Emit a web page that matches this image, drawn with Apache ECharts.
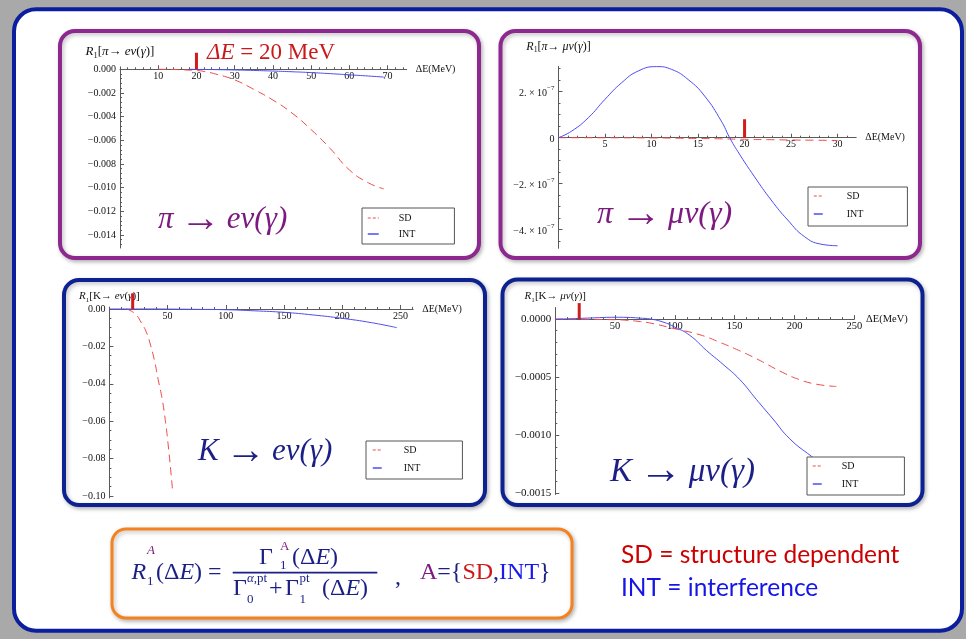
<!DOCTYPE html>
<html>
<head>
<meta charset="utf-8">
<script src="https://cdn.jsdelivr.net/npm/echarts@6/dist/echarts.min.js"></script>
<style>
  html, body { margin: 0; padding: 0; background: #a9a9a9; }
  #chart { width: 966px; height: 639px; }
</style>
</head>
<body>
<div id="chart"></div>
<script>
// ---- R1 ratios versus the photon energy cut ΔE (MeV) ----

// π → eν(γ)
const piE_dE_SD  = [10, 14, 18, 20, 22, 25, 30, 35, 40, 45, 50, 55, 60, 65, 69];
const piE_SD     = [0, -0.00002, -0.00007, -0.0001, -0.00018, -0.0004, -0.0009, -0.0017, -0.0026, -0.0037, -0.0051, -0.0067, -0.0085, -0.0096, -0.0101];
const piE_dE_INT = [18, 20, 25, 30, 35, 40, 45, 50, 55, 60, 65, 69];
const piE_INT    = [0, -0.00001, -0.00003, -0.00006, -0.0001, -0.00015, -0.00021, -0.00028, -0.00037, -0.00047, -0.00057, -0.00066];

// π → μν(γ)
const piMu_dE_INT = [0, 1.43, 3.21, 5, 6.79, 8.57, 10.54, 12.15, 13.93, 15.71, 17.5, 18.4, 19.29, 21.07, 22.86, 24.64, 26.43, 28.21, 30];
const piMu_INT    = [0, 0.29e-7, 0.87e-7, 1.67e-7, 2.39e-7, 2.9e-7, 3.09e-7, 2.97e-7, 2.53e-7, 1.81e-7, 0.72e-7, 0, -0.61e-7, -1.7e-7, -2.71e-7, -3.58e-7, -4.3e-7, -4.63e-7, -4.7e-7];
const piMu_dE_SD  = [0, 5, 10, 12.5, 15, 17.5, 20, 22.5, 25, 27.5, 30];
const piMu_SD     = [0, -0.003e-7, -0.01e-7, -0.02e-7, -0.035e-7, -0.05e-7, -0.07e-7, -0.085e-7, -0.1e-7, -0.11e-7, -0.12e-7];

// K → eν(γ)
const kE_dE_SD  = [14.8, 21.9, 27.6, 32, 34.8, 38.5, 41.9, 45.4, 48.3, 50.6, 52.6, 54.3];
const kE_SD     = [0, -0.0025, -0.0075, -0.0128, -0.0181, -0.027, -0.0377, -0.0484, -0.0608, -0.0733, -0.0857, -0.0973];
const kE_dE_INT = [0, 25, 50, 75, 100, 125, 150, 175, 200, 225, 247];
const kE_INT    = [0, 0, -0.00005, -0.0002, -0.0004, -0.001, -0.0018, -0.0032, -0.005, -0.0073, -0.0100];

// K → μν(γ)
const kMu_dE_INT = [0, 10, 20, 30, 40, 50, 60, 70, 80, 90, 100, 112.5, 126.4, 140.3, 154.2, 168, 182, 196, 214, 225, 236];
const kMu_INT    = [0, 0.000002, 0.000006, 0.00001, 0.000014, 0.000016, 0.000015, 0.000009, 0, -0.000025, -0.000069, -0.00014, -0.00027, -0.00039, -0.00052, -0.00069, -0.00086, -0.00103, -0.00118, -0.00126, -0.00132];
const kMu_dE_SD  = [0, 50, 60, 70, 80, 100, 121, 137.6, 151.4, 168, 190.3, 204, 218, 235];
const kMu_SD     = [0, -0.000005, -0.00001, -0.00002, -0.000035, -0.000083, -0.000135, -0.0002, -0.00026, -0.00034, -0.00046, -0.00052, -0.00056, -0.00058];

// ΔE = 20 MeV cut, drawn as a short bar rising from the axis
const cutDE = 20;
const cutBarTop = [0.0014, 0.8e-7, 0.0084, 0.000138];

// tick labels
const piE_xTicks  = [10, 20, 30, 40, 50, 60, 70];
const piE_yTicks  = [0, -0.002, -0.004, -0.006, -0.008, -0.010, -0.012, -0.014];
const piMu_xTicks = [5, 10, 15, 20, 25, 30];
const piMu_yTicks = [2e-7, 0, -2e-7, -4e-7];
const kE_xTicks   = [50, 100, 150, 200, 250];
const kE_yTicks   = [0, -0.02, -0.04, -0.06, -0.08, -0.10];
const kMu_xTicks  = [50, 100, 150, 200, 250];
const kMu_yTicks  = [0, -0.0005, -0.0010, -0.0015];

const SERIF = '"Liberation Serif","DejaVu Serif","Times New Roman",serif';
const SANS = 'Lato,"Open Sans","Liberation Sans",sans-serif';
const SD_COLOR = '#f04848';
const INT_COLOR = '#4d4df2';
const CUT_COLOR = '#d01c1c';
const AXIS_COLOR = '#5a5a5a';
const NAVY = '#1b1f86';
const PURPLE = '#7d1a80';

const pairs = (xs, ys) => xs.map((x, i) => [x, ys[i]]);
const minus = s => s.replace('-', '\u2212');

// plot frames (pixel layout of the four panels) and their value ranges
const grids = [
  { left: 120,   top: 66.9,  width: 286.7, height: 181.1 },
  { left: 558.5, top: 66.4,  width: 297.7, height: 181.9 },
  { left: 109.4, top: 307.1, width: 303.8, height: 190.8 },
  { left: 555.3, top: 307.5, width: 299,   height: 187   }
].map(g => Object.assign({ containLabel: false, outerBoundsMode: 'none' }, g));
const yRanges = [[-0.0151, 0.0002], [-4.81e-7, 3.1e-7], [-0.101, 0.001], [-0.00151, 0.0001]];

// the ΔE axis crosses the vertical axis at R1 = 0
function zeroOffset(gi) {
  const [lo, hi] = yRanges[gi];
  return -(0 - lo) / (hi - lo) * grids[gi].height;
}

function xAxis(gi, max, split, ticks, fs) {
  return {
    type: 'value', gridIndex: gi, min: 0, max: max, splitNumber: split,
    position: 'bottom', offset: zeroOffset(gi),
    name: 'ΔE(MeV)', nameLocation: 'end', nameGap: 9,
    nameTextStyle: { fontFamily: SERIF, fontSize: fs, color: '#111', verticalAlign: 'middle', align: 'left' },
    axisLine: { onZero: false, lineStyle: { color: AXIS_COLOR, width: 1 } },
    axisTick: { inside: true, length: 4, customValues: ticks, lineStyle: { color: AXIS_COLOR } },
    minorTick: { show: true, splitNumber: 5, length: 2, lineStyle: { color: AXIS_COLOR } },
    axisLabel: { customValues: ticks, margin: 2, fontFamily: SERIF, fontSize: fs, color: '#111',
                 formatter: v => String(Math.round(v)) },
    splitLine: { show: false }
  };
}

function yAxis(gi, split, minorSplit, ticks, fmt, name, nameGap, nameSize, fs, rich) {
  return {
    type: 'value', gridIndex: gi, min: yRanges[gi][0], max: yRanges[gi][1], splitNumber: split,
    name: name, nameLocation: 'end', nameGap: nameGap,
    nameTextStyle: {
      fontFamily: SERIF, fontSize: nameSize, color: '#111',
      rich: {
        r: { fontFamily: SERIF, fontSize: nameSize, fontStyle: 'italic', color: '#111', lineHeight: nameSize + 4 },
        s: { fontFamily: SERIF, fontSize: nameSize * 0.65, color: '#111', verticalAlign: 'bottom', lineHeight: nameSize * 0.65 },
        t: { fontFamily: SERIF, fontSize: nameSize, color: '#111', lineHeight: nameSize + 4 },
        i: { fontFamily: SERIF, fontSize: nameSize, fontStyle: 'italic', color: '#111', lineHeight: nameSize + 4 }
      }
    },
    axisLine: { onZero: true, lineStyle: { color: AXIS_COLOR, width: 1 } },
    axisTick: { inside: true, length: 4, customValues: ticks, lineStyle: { color: AXIS_COLOR } },
    minorTick: { show: true, splitNumber: minorSplit, length: 2, lineStyle: { color: AXIS_COLOR } },
    axisLabel: { customValues: ticks, margin: 4, fontFamily: SERIF, fontSize: fs, color: '#111',
                 formatter: fmt, rich: rich || {} },
    splitLine: { show: false }
  };
}

function curve(name, gi, xs, ys, color, dashed) {
  return {
    type: 'line', name: name, xAxisIndex: gi, yAxisIndex: gi,
    data: pairs(xs, ys), smooth: 0.5, symbol: 'none',
    lineStyle: { color: color, width: 1, type: dashed ? [8, 5] : 'solid' },
    itemStyle: { color: color }, emphasis: { disabled: true }, silent: true, z: 3
  };
}

function cutBar(gi) {
  return {
    type: 'line', name: 'cut', xAxisIndex: gi, yAxisIndex: gi,
    data: [[cutDE, 0], [cutDE, cutBarTop[gi]]], symbol: 'none', clip: false,
    lineStyle: { color: CUT_COLOR, width: 3, cap: 'butt' }, silent: true, z: 6
  };
}

function legendBox(left, top, pad, gap, iw, textPad) {
  return {
    left: left, top: top, orient: 'vertical', padding: pad, itemGap: gap,
    itemWidth: iw, itemHeight: 10, selectedMode: false,
    backgroundColor: '#ffffff', borderColor: '#555', borderWidth: 1, borderRadius: 0,
    itemStyle: { opacity: 0 },
    data: [
      { name: 'SD', lineStyle: { type: [3, 2], width: 1 }, itemStyle: { opacity: 0 } },
      { name: 'INT', lineStyle: { width: 1.5 }, itemStyle: { opacity: 0 } }
    ],
    formatter: n => '{t|' + n + '}',
    textStyle: {
      fontFamily: SERIF, fontSize: 10, color: '#111',
      rich: { t: { fontFamily: SERIF, fontSize: 10, color: '#111', padding: [0, 0, 0, textPad], lineHeight: 10 } }
    }
  };
}

const expRich = {
  m: { fontFamily: SERIF, fontSize: 10, color: '#111', lineHeight: 14, verticalAlign: 'bottom' },
  e: { fontFamily: SERIF, fontSize: 7, color: '#111', lineHeight: 7, verticalAlign: 'top' }
};
const sciFmt = v => {
  if (Math.abs(v) < 1e-12) return '{m|0}';
  const k = Math.round(v / 1e-7);
  return '{m|' + minus(String(k)) + '. × 10}{e|\u22127}';
};

// text helpers for the slide annotations (graphic text uses `fill` for colour)
function txt(x, y, text, style) {
  return {
    type: 'text', x: x, y: y, z: 10, silent: true,
    style: Object.assign({ text: text, fontFamily: SERIF, fill: NAVY, verticalAlign: 'middle', align: 'left' }, style)
  };
}
function frame(x, y, w, h, r, color, lw) {
  return {
    type: 'rect', z: -1, silent: true,
    shape: { x: x, y: y, width: w, height: h, r: r },
    style: { fill: '#ffffff', stroke: color, lineWidth: lw, shadowBlur: 4, shadowOffsetX: 1.5, shadowOffsetY: 2, shadowColor: 'rgba(0,0,0,0.25)' }
  };
}
// decay label "X → ℓν(γ)" with a long arrow
function decay(x, y, from, to, size, color) {
  const base = { fontFamily: SERIF, fill: color, lineHeight: size * 1.3 };
  return txt(x, y, '{g|' + from + '}{a|→}{g|' + to + '}', { fill: color, rich: {
    g: Object.assign({ fontSize: size, fontStyle: 'italic' }, base),
    a: Object.assign({ fontSize: size * 1.3, padding: [0, size * 0.2, 0, size * 0.22] }, base)
  } });
}

const FS = 24;   // formula main size
const SS = 13;   // formula script size
const fRich = {
  n: { fontFamily: SERIF, fontSize: FS, fill: NAVY },
  i: { fontFamily: SERIF, fontSize: FS, fontStyle: 'italic', fill: NAVY },
  p: { fontFamily: SERIF, fontSize: FS, fill: PURPLE },
  r: { fontFamily: SERIF, fontSize: FS, fill: '#cc1818' },
  b: { fontFamily: SERIF, fontSize: FS, fill: '#1a1af0' },
  si: { fontFamily: SERIF, fontSize: SS, fontStyle: 'italic', fill: NAVY },
  sn: { fontFamily: SERIF, fontSize: SS, fill: NAVY }
};

const graphics = [
  // slide and panel frames
  { type: 'rect', z: -2, silent: true, shape: { x: 14, y: 9.3, width: 948, height: 621.4, r: 22 },
    style: { fill: '#ffffff', stroke: '#0b1f9e', lineWidth: 4 } },
  frame(60, 31, 419, 227, 15, '#8c288e', 4),
  frame(500.5, 31, 419.5, 227, 15, '#8c288e', 4),
  frame(64, 280, 421, 225, 15, '#0d2290', 4),
  frame(502.5, 279.5, 420, 225.5, 15, '#0d2290', 4),
  frame(112, 529, 460, 89, 14, '#f5821f', 3),

  // ΔE cut annotation
  txt(207, 53, '{i|ΔE}{n| = 20 MeV}', { fill: '#c81a1a', rich: {
    i: { fontFamily: SERIF, fontSize: 23, fontStyle: 'italic', fill: '#c81a1a' },
    n: { fontFamily: SERIF, fontSize: 23, fill: '#c81a1a' } } }),

  // process labels
  decay(158, 220, 'π', 'eν(γ)', 31, PURPLE),
  decay(597, 215, 'π', 'μν(γ)', 32, PURPLE),
  decay(198, 452, 'K', 'eν(γ)', 31, NAVY),
  decay(610, 472, 'K', 'μν(γ)', 33, NAVY),

  // R1^A(ΔE) definition
  txt(131.5, 573, 'R', { fontSize: FS, fontStyle: 'italic' }),
  txt(147, 551, 'A', { fontSize: SS, fontStyle: 'italic', fill: PURPLE }),
  txt(147, 582, '1', { fontSize: SS }),
  txt(156, 573, '{n|(Δ}{i|E}{n|) =}', { rich: fRich }),
  txt(259, 558, 'Γ', { fontSize: FS }),
  txt(280, 547, 'A', { fontSize: SS, fill: PURPLE }),
  txt(280, 566, '1', { fontSize: SS }),
  txt(292, 558, '{n|(Δ}{i|E}{n|)}', { rich: fRich }),
  { type: 'line', z: 10, silent: true, shape: { x1: 232.7, y1: 572.7, x2: 377.3, y2: 572.7 },
    style: { stroke: NAVY, lineWidth: 1.8 } },
  txt(233, 589, 'Γ', { fontSize: FS }),
  txt(247, 579, '{si|α}{sn|,pt}', { rich: fRich }),
  txt(247, 600, '0', { fontSize: SS }),
  txt(269, 589, '+', { fontSize: FS }),
  txt(285, 589, 'Γ', { fontSize: FS }),
  txt(299.5, 579, 'pt', { fontSize: SS }),
  txt(299.5, 600, '1', { fontSize: SS }),
  txt(322, 589, '{n|(Δ}{i|E}{n|)}', { rich: fRich }),
  txt(395, 578, ',', { fontSize: FS }),
  txt(420, 573, '{p|A}{n|={}{r|SD}{n|,}{b|INT}}', { fontSize: FS, rich: fRich }),

  // abbreviations
  txt(621, 555, 'SD = structure dependent', { fontFamily: SANS, fontSize: 24.5, fill: '#cc0000' }),
  txt(621, 588, 'INT = interference', { fontFamily: SANS, fontSize: 24.5, fill: '#1515e8' })
];

const option = {
  backgroundColor: '#a9a9a9',
  animation: false,
  grid: grids,
  xAxis: [
    xAxis(0, 75, 8, piE_xTicks, 10),
    xAxis(1, 32, 6, piMu_xTicks, 10),
    xAxis(2, 261, 5, kE_xTicks, 10),
    xAxis(3, 250, 5, kMu_xTicks, 10.5)
  ],
  yAxis: [
    yAxis(0, 8, 5, piE_yTicks, v => minus(v.toFixed(3)),
          '{r|R}{s|1}{t|[}{i|π}{t|→ }{i|eν}{t|(}{i|γ}{t|)]}', 7, 13, 10),
    yAxis(1, 4, 4, piMu_yTicks, sciFmt,
          '{r|R}{s|1}{t|[}{i|π}{t|→ }{i|μν}{t|(}{i|γ}{t|)]}', 12, 12, 10, expRich),
    yAxis(2, 5, 4, kE_yTicks, v => minus(v.toFixed(2)),
          '{r|R}{s|1}{t|[K→ }{i|eν}{t|(}{i|γ}{t|)]}', 2, 11, 10),
    yAxis(3, 3, 5, kMu_yTicks, v => minus(v.toFixed(4)),
          '{r|R}{s|1}{t|[K→ }{i|μν}{t|(}{i|γ}{t|)]}', 4, 11, 11)
  ],
  legend: [
    legendBox(362, 208, [5, 39, 5, 5], 6, 11, 15),
    legendBox(808, 187, [4, 44, 7, 5], 8, 9, 19),
    legendBox(366, 441, [4, 42, 6, 6], 8, 9, 17),
    legendBox(807, 457, [4, 46, 6, 5], 8, 9, 15)
  ],
  series: [
    curve('SD', 0, piE_dE_SD, piE_SD, SD_COLOR, true),
    curve('INT', 0, piE_dE_INT, piE_INT, INT_COLOR, false),
    curve('SD', 1, piMu_dE_SD, piMu_SD, SD_COLOR, true),
    curve('INT', 1, piMu_dE_INT, piMu_INT, INT_COLOR, false),
    curve('SD', 2, kE_dE_SD, kE_SD, SD_COLOR, true),
    curve('INT', 2, kE_dE_INT, kE_INT, INT_COLOR, false),
    curve('SD', 3, kMu_dE_SD, kMu_SD, SD_COLOR, true),
    curve('INT', 3, kMu_dE_INT, kMu_INT, INT_COLOR, false),
    cutBar(0), cutBar(1), cutBar(2), cutBar(3)
  ],
  graphic: { elements: graphics }
};

const chart = echarts.init(document.getElementById('chart'), null, { renderer: 'canvas' });
chart.setOption(option);
</script>
</body>
</html>
